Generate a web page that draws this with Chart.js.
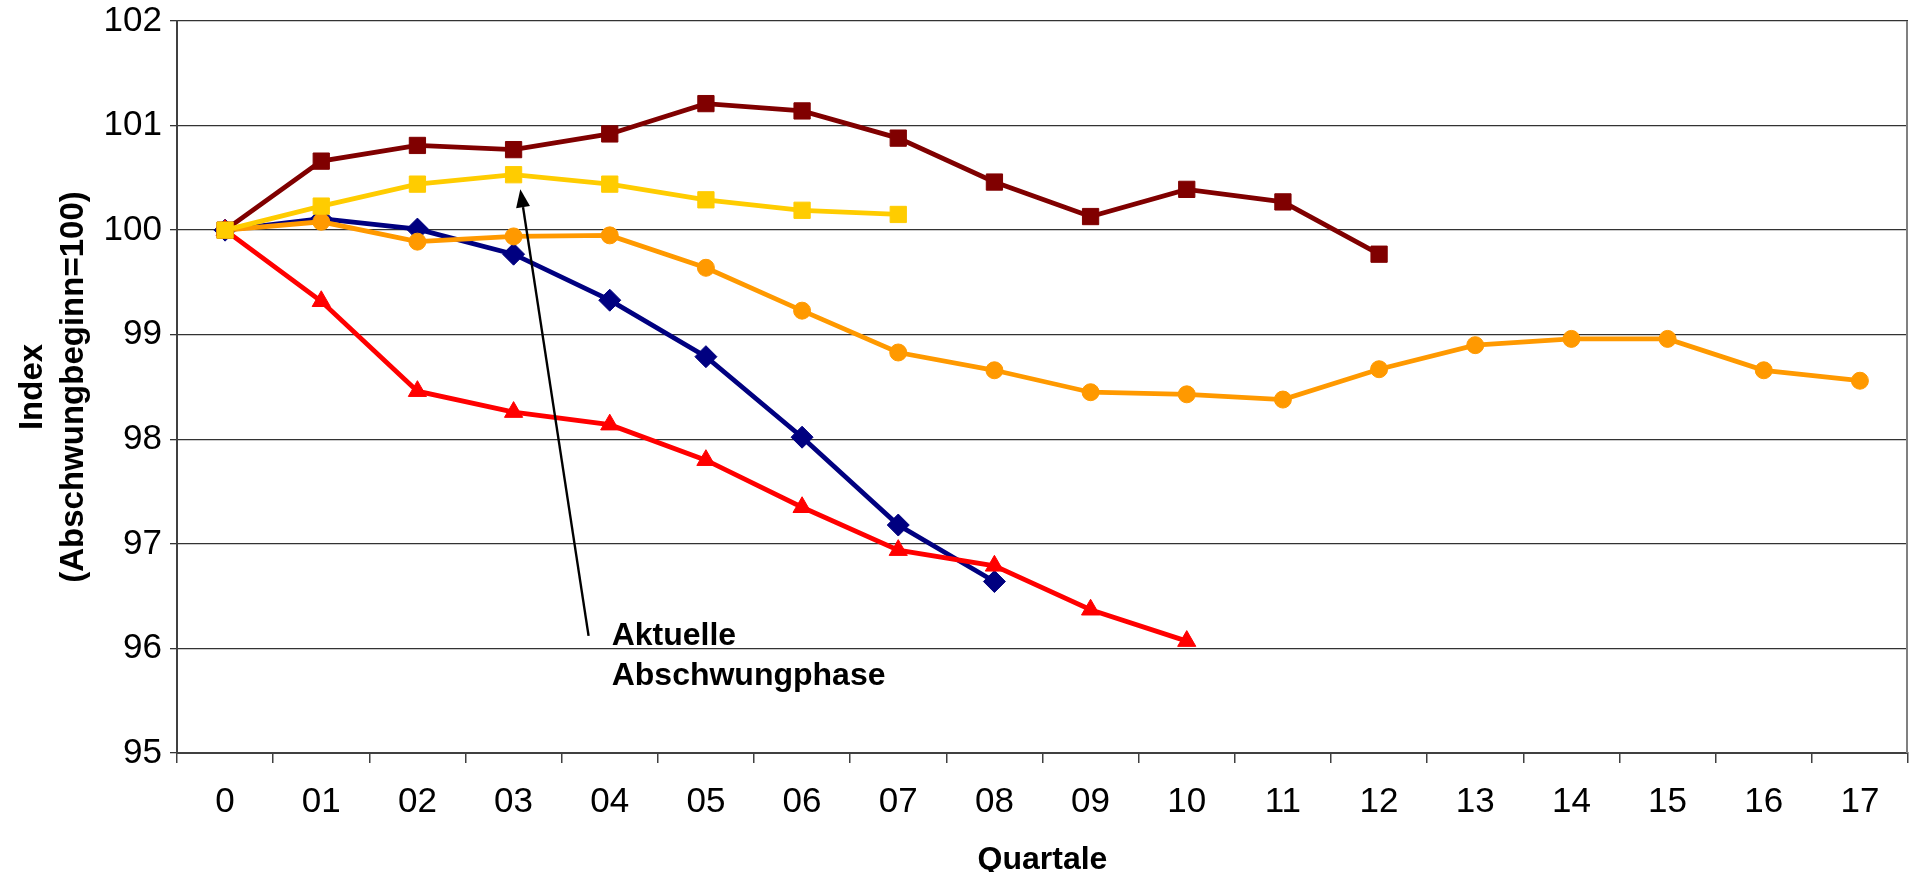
<!DOCTYPE html>
<html>
<head>
<meta charset="utf-8">
<script src="https://cdn.jsdelivr.net/npm/chart.js@4.4.1/dist/chart.umd.min.js"></script>
<style>
  html, body { margin: 0; padding: 0; background: #fff; }
  #wrap { width: 1910px; height: 872px; }
</style>
</head>
<body>
<div id="wrap"><canvas id="chart" width="1910" height="872"></canvas></div>
<script>
// ---------- data ----------
const quartale = ['0', '01', '02', '03', '04', '05', '06', '07', '08', '09',
                  '10', '11', '12', '13', '14', '15', '16', '17'];

const seriesDarkRed = [100, 100.66, 100.81, 100.77, 100.92, 101.21, 101.14, 100.88, 100.46, 100.13, 100.39, 100.27, 99.77];
const currentPhase  = [100, 100.23, 100.44, 100.53, 100.44, 100.29, 100.19, 100.15];
const seriesBlue    = [100, 100.11, 100.01, 99.77, 99.33, 98.79, 98.02, 97.18, 96.64];
const seriesOrange  = [100, 100.08, 99.89, 99.94, 99.95, 99.64, 99.23, 98.83, 98.66, 98.45, 98.43, 98.38, 98.67, 98.90, 98.96, 98.96, 98.66, 98.56];
const seriesRed     = [100, 99.32, 98.46, 98.26, 98.14, 97.80, 97.35, 96.94, 96.79, 96.37, 96.07];

const yTicks = [95, 96, 97, 98, 99, 100, 101, 102];

// annotation anchors, in axis units (category index, index value)
const arrowFrom = [3.78, 96.12];
const arrowTo = [3.07, 100.39];
const noteLines = ['Aktuelle', 'Abschwungphase'];
const noteAt = [4.02, 96.03];

// ---------- helpers ----------
const FONT = "'Liberation Sans', Arial, sans-serif";

function lineSet(data, color, style, radius) {
    return {
        data: data,
        borderColor: color,
        backgroundColor: color,
        borderWidth: 4.8,
        pointStyle: style,
        pointRadius: radius,
        pointHoverRadius: radius,
        pointBorderWidth: 1,
        tension: 0,
        fill: false
    };
}

const notePlugin = {
    id: 'note',
    afterDatasetsDraw(chart) {
        const { ctx, chartArea, scales: { x, y } } = chart;

        // right frame line of the plot area
        ctx.save();
        ctx.strokeStyle = '#808080';
        ctx.lineWidth = 2;
        ctx.beginPath();
        ctx.moveTo(chartArea.right - 1, chartArea.top);
        ctx.lineTo(chartArea.right - 1, chartArea.bottom);
        ctx.stroke();

        // arrow
        const x1 = x.getPixelForValue(arrowFrom[0]), y1 = y.getPixelForValue(arrowFrom[1]);
        const x2 = x.getPixelForValue(arrowTo[0]), y2 = y.getPixelForValue(arrowTo[1]);
        const ang = Math.atan2(y2 - y1, x2 - x1);
        const head = 18, half = 7;
        const bx = x2 - head * Math.cos(ang), by = y2 - head * Math.sin(ang);
        ctx.strokeStyle = '#000';
        ctx.fillStyle = '#000';
        ctx.lineWidth = 2.4;
        ctx.beginPath();
        ctx.moveTo(x1, y1);
        ctx.lineTo(bx, by);
        ctx.stroke();
        ctx.beginPath();
        ctx.moveTo(x2, y2);
        ctx.lineTo(bx + half * Math.sin(ang), by - half * Math.cos(ang));
        ctx.lineTo(bx - half * Math.sin(ang), by + half * Math.cos(ang));
        ctx.closePath();
        ctx.fill();

        // note text
        ctx.font = 'bold 32px ' + FONT;
        ctx.textAlign = 'left';
        ctx.textBaseline = 'alphabetic';
        const tx = x.getPixelForValue(noteAt[0]);
        const ty = y.getPixelForValue(noteAt[1]);
        noteLines.forEach((t, i) => ctx.fillText(t, tx, ty + i * 40));
        ctx.restore();
    }
};

// ---------- chart ----------
new Chart(document.getElementById('chart'), {
    type: 'line',
    data: {
        labels: quartale,
        datasets: [
            lineSet(currentPhase, '#FFCC00', 'rect', 11.5),
            lineSet(seriesDarkRed, '#800000', 'rect', 11.5),
            lineSet(seriesRed, '#FF0000', 'triangle', 10.5),
            lineSet(seriesOrange, '#FF9900', 'circle', 8.5),
            lineSet(seriesBlue, '#000080', 'rectRot', 11)
        ]
    },
    options: {
        responsive: false,
        animation: false,
        devicePixelRatio: 1,
        layout: { autoPadding: false, padding: { top: 21, right: 2, left: 0, bottom: 0 } },
        plugins: {
            legend: { display: false },
            tooltip: { enabled: false }
        },
        scales: {
            x: {
                offset: true,
                grid: {
                    offset: true,
                    drawOnChartArea: false,
                    drawTicks: true,
                    tickLength: 10,
                    color: '#404040',
                    lineWidth: 1.5
                },
                border: { color: '#404040', width: 2 },
                ticks: {
                    color: '#000',
                    font: { family: FONT, size: 35 },
                    padding: 18.5,
                    maxRotation: 0,
                    autoSkip: false
                },
                title: {
                    display: true,
                    text: 'Quartale',
                    color: '#000',
                    font: { family: FONT, size: 32, weight: 'bold', lineHeight: 1 },
                    padding: { top: 0, bottom: -3.8 }
                },
                afterFit(scale) {
                    scale.height = 119;
                    scale.paddingLeft = 0;
                    scale.paddingRight = 0;
                }
            },
            y: {
                min: 95,
                max: 102,
                afterBuildTicks(scale) {
                    scale.ticks = yTicks.map(v => ({ value: v }));
                },
                grid: {
                    color: '#333',
                    lineWidth: 1.3,
                    tickLength: 7
                },
                border: { color: '#404040', width: 2 },
                ticks: {
                    color: '#000',
                    font: { family: FONT, size: 35 },
                    padding: 8
                },
                title: {
                    display: true,
                    text: ['Index', '(Abschwungbeginn=100)'],
                    color: '#000',
                    font: { family: FONT, size: 33, weight: 'bold', lineHeight: 40.2 / 33 },
                    padding: { top: 13.3, bottom: 0 }
                },
                afterFit(scale) {
                    scale.width = 177;
                    scale.paddingTop = 0;
                    scale.paddingBottom = 0;
                }
            }
        }
    },
    plugins: [notePlugin]
});
</script>
</body>
</html>
